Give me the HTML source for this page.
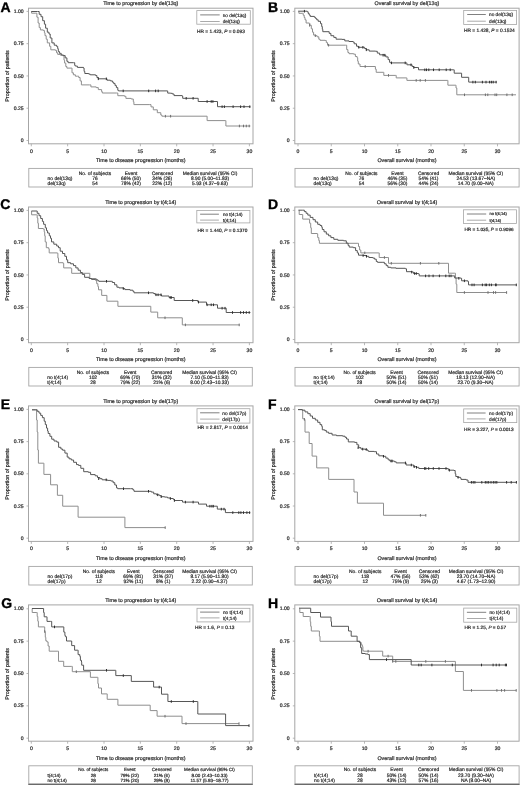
<!DOCTYPE html>
<html><head><meta charset="utf-8"><style>
html,body{margin:0;padding:0;background:#fff;}
svg{display:block;filter:grayscale(1) blur(0.4px);}
text{font-family:"Liberation Sans", sans-serif;text-rendering:geometricPrecision;fill:#2a2a2a;stroke:#2a2a2a;stroke-width:0.2px;}
</style></head><body>
<svg width="520" height="785" viewBox="0 0 520 785">
<rect width="520" height="785" fill="#fff"/>
<text x="0.6" y="11.5" font-size="14" font-weight="bold" style="fill:#000;stroke:#000;stroke-width:0.35px">A</text>
<text x="140.75" y="4.50" font-size="5.35" text-anchor="middle" >Time to progression by del(13q)</text>
<rect x="28.5" y="8.2" width="224.50" height="135.60" fill="none" stroke="#a6a6a6" stroke-width="1"/>
<line x1="26.5" y1="11.40" x2="28.5" y2="11.40" stroke="#a6a6a6" stroke-width="0.8"/>
<text x="23.70" y="13.00" font-size="5.1" text-anchor="end" >1.00</text>
<line x1="26.5" y1="43.67" x2="28.5" y2="43.67" stroke="#a6a6a6" stroke-width="0.8"/>
<text x="23.70" y="45.27" font-size="5.1" text-anchor="end" >0.75</text>
<line x1="26.5" y1="75.95" x2="28.5" y2="75.95" stroke="#a6a6a6" stroke-width="0.8"/>
<text x="23.70" y="77.55" font-size="5.1" text-anchor="end" >0.50</text>
<line x1="26.5" y1="108.22" x2="28.5" y2="108.22" stroke="#a6a6a6" stroke-width="0.8"/>
<text x="23.70" y="109.82" font-size="5.1" text-anchor="end" >0.25</text>
<line x1="26.5" y1="140.50" x2="28.5" y2="140.50" stroke="#a6a6a6" stroke-width="0.8"/>
<text x="23.70" y="142.10" font-size="5.1" text-anchor="end" >0</text>
<line x1="31.30" y1="143.8" x2="31.30" y2="146.3" stroke="#a6a6a6" stroke-width="0.8"/>
<text x="31.30" y="152.80" font-size="5.1" text-anchor="middle" >0</text>
<line x1="67.65" y1="143.8" x2="67.65" y2="146.3" stroke="#a6a6a6" stroke-width="0.8"/>
<text x="67.65" y="152.80" font-size="5.1" text-anchor="middle" >5</text>
<line x1="104.00" y1="143.8" x2="104.00" y2="146.3" stroke="#a6a6a6" stroke-width="0.8"/>
<text x="104.00" y="152.80" font-size="5.1" text-anchor="middle" >10</text>
<line x1="140.35" y1="143.8" x2="140.35" y2="146.3" stroke="#a6a6a6" stroke-width="0.8"/>
<text x="140.35" y="152.80" font-size="5.1" text-anchor="middle" >15</text>
<line x1="176.70" y1="143.8" x2="176.70" y2="146.3" stroke="#a6a6a6" stroke-width="0.8"/>
<text x="176.70" y="152.80" font-size="5.1" text-anchor="middle" >20</text>
<line x1="213.05" y1="143.8" x2="213.05" y2="146.3" stroke="#a6a6a6" stroke-width="0.8"/>
<text x="213.05" y="152.80" font-size="5.1" text-anchor="middle" >25</text>
<line x1="249.40" y1="143.8" x2="249.40" y2="146.3" stroke="#a6a6a6" stroke-width="0.8"/>
<text x="249.40" y="152.80" font-size="5.1" text-anchor="middle" >30</text>
<text x="140.75" y="162.00" font-size="5.35" text-anchor="middle" >Time to disease progression (months)</text>
<text x="0" y="0" font-size="5.43" text-anchor="middle" transform="translate(8.80,76.00) rotate(-90)">Proportion of patients</text>
<rect x="196.8" y="10.6" width="53.50" height="13.60" fill="none" stroke="#a6a6a6" stroke-width="0.8"/>
<line x1="200.2" y1="14.90" x2="219.7" y2="14.90" stroke="#565656" stroke-width="0.75"/>
<text x="222.70" y="16.58" font-size="4.67" text-anchor="start" >no del(13q)</text>
<line x1="200.2" y1="21.50" x2="219.7" y2="21.50" stroke="#8e8e8e" stroke-width="0.75"/>
<text x="222.70" y="23.18" font-size="4.67" text-anchor="start" >del(13q)</text>
<text x="197.10" y="33.33" font-size="4.8" text-anchor="start" >HR = 1.423, <tspan font-style="italic">P</tspan> = 0.093</text>
<rect x="28.8" y="168.40" width="223.50" height="18.60" fill="none" stroke="#a6a6a6" stroke-width="0.9"/>
<text x="95.00" y="174.50" font-size="4.9" text-anchor="middle" >No. of subjects</text>
<text x="131.00" y="174.50" font-size="4.9" text-anchor="middle" >Event</text>
<text x="162.30" y="174.50" font-size="4.9" text-anchor="middle" >Censored</text>
<text x="210.00" y="174.50" font-size="4.9" text-anchor="middle" >Median survival (95% CI)</text>
<text x="47.60" y="179.70" font-size="4.9" text-anchor="start" >no del(13q)</text>
<text x="95.00" y="179.70" font-size="4.9" text-anchor="middle" >76</text>
<text x="131.00" y="179.70" font-size="4.9" text-anchor="middle" >66% (50)</text>
<text x="162.30" y="179.70" font-size="4.9" text-anchor="middle" >34% (26)</text>
<text x="210.00" y="179.70" font-size="4.9" text-anchor="middle" >8.90 (5.00–11.83)</text>
<text x="47.60" y="184.80" font-size="4.9" text-anchor="start" >del(13q)</text>
<text x="95.00" y="184.80" font-size="4.9" text-anchor="middle" >54</text>
<text x="131.00" y="184.80" font-size="4.9" text-anchor="middle" >78% (42)</text>
<text x="162.30" y="184.80" font-size="4.9" text-anchor="middle" >22% (12)</text>
<text x="210.00" y="184.80" font-size="4.9" text-anchor="middle" >5.93 (4.37–9.63)</text>
<path d="M31.30,11.50 H31.60 V13.20 H35.80 V13.20 H36.90 V17.20 H38.10 V23.00 H39.20 V27.60 H40.40 V29.90 H43.30 V30.50 H44.40 V32.80 H45.00 V35.70 H46.20 V39.20 H47.30 V42.90 H49.60 V46.30 H50.80 V49.80 H55.40 V50.40 H56.50 V52.70 H57.70 V54.40 H60.00 V55.00 H62.30 V55.60 H64.00 V60.20 H64.60 V63.10 H65.80 V66.50 H66.90 V68.10 H71.30 V68.10 H72.00 V72.80 H73.40 V74.80 H75.40 V76.20 H77.40 V76.20 H78.70 V77.50 H80.10 V80.90 H81.40 V84.90 H89.50 V84.90 H90.90 V86.90 H96.20 V87.60 H98.30 V89.60 H101.60 V91.60 H102.30 V93.00 H116.40 V93.00 H117.80 V95.70 H124.50 V96.30 H125.90 V98.40 H131.20 V99.00 H133.30 V101.70 H133.90 V104.60 H149.80 V104.60 H151.00 V106.90 H153.30 V109.80 H157.30 V112.70 H160.80 V115.00 H161.90 V116.20 H207.10 V116.20 H207.10 V120.60 H225.60 V120.60 H225.90 V126.00 H250.40 V126.00" fill="none" stroke="#8e8e8e" stroke-width="1.0"/>
<line x1="165.40" y1="114.90" x2="165.40" y2="117.50" stroke="#6e6e6e" stroke-width="1.0"/>
<line x1="170.60" y1="114.90" x2="170.60" y2="117.50" stroke="#6e6e6e" stroke-width="1.0"/>
<line x1="239.40" y1="124.70" x2="239.40" y2="127.30" stroke="#6e6e6e" stroke-width="1.0"/>
<line x1="243.50" y1="124.70" x2="243.50" y2="127.30" stroke="#6e6e6e" stroke-width="1.0"/>
<line x1="246.30" y1="124.70" x2="246.30" y2="127.30" stroke="#6e6e6e" stroke-width="1.0"/>
<line x1="249.20" y1="124.70" x2="249.20" y2="127.30" stroke="#6e6e6e" stroke-width="1.0"/>
<path d="M31.30,11.50 H37.50 V11.50 H39.20 V14.30 H41.00 V16.70 H42.70 V20.70 H44.40 V24.20 H45.60 V28.20 H47.30 V32.20 H49.00 V34.00 H50.20 V38.00 H51.90 V42.90 H54.20 V45.20 H56.50 V46.30 H57.70 V48.70 H58.30 V51.50 H59.40 V53.30 H61.20 V55.00 H63.50 V55.60 H65.20 V57.90 H66.90 V61.30 H68.10 V62.70 H73.40 V62.70 H74.70 V65.40 H75.40 V66.10 H77.40 V67.40 H83.50 V68.10 H84.10 V71.40 H84.80 V73.50 H88.80 V74.10 H90.20 V74.80 H95.60 V75.50 H96.90 V77.50 H98.30 V78.80 H105.70 V78.80 H107.00 V80.20 H110.40 V80.90 H112.40 V82.20 H113.70 V83.60 H115.10 V85.60 H116.40 V87.60 H117.80 V90.30 H118.50 V90.90 H167.40 V90.90 H167.70 V93.10 H170.60 V93.30 H172.30 V94.00 H174.00 V95.60 H182.10 V96.00 H182.70 V98.30 H198.00 V98.30 H198.20 V101.50 H217.20 V101.50 H217.50 V106.70 H250.40 V106.70" fill="none" stroke="#565656" stroke-width="1.0"/>
<line x1="98.30" y1="77.50" x2="98.30" y2="80.10" stroke="#2e2e2e" stroke-width="1.0"/>
<line x1="106.30" y1="77.50" x2="106.30" y2="80.10" stroke="#2e2e2e" stroke-width="1.0"/>
<line x1="123.20" y1="89.60" x2="123.20" y2="92.20" stroke="#2e2e2e" stroke-width="1.0"/>
<line x1="148.70" y1="89.60" x2="148.70" y2="92.20" stroke="#2e2e2e" stroke-width="1.0"/>
<line x1="155.60" y1="89.60" x2="155.60" y2="92.20" stroke="#2e2e2e" stroke-width="1.0"/>
<line x1="158.20" y1="89.60" x2="158.20" y2="92.20" stroke="#2e2e2e" stroke-width="1.0"/>
<line x1="186.20" y1="97.00" x2="186.20" y2="99.60" stroke="#2e2e2e" stroke-width="1.0"/>
<line x1="193.10" y1="97.00" x2="193.10" y2="99.60" stroke="#2e2e2e" stroke-width="1.0"/>
<line x1="207.10" y1="100.20" x2="207.10" y2="102.80" stroke="#2e2e2e" stroke-width="1.0"/>
<line x1="211.20" y1="100.20" x2="211.20" y2="102.80" stroke="#2e2e2e" stroke-width="1.0"/>
<line x1="212.90" y1="100.20" x2="212.90" y2="102.80" stroke="#2e2e2e" stroke-width="1.0"/>
<line x1="222.10" y1="105.40" x2="222.10" y2="108.00" stroke="#2e2e2e" stroke-width="1.0"/>
<line x1="224.40" y1="105.40" x2="224.40" y2="108.00" stroke="#2e2e2e" stroke-width="1.0"/>
<line x1="233.10" y1="105.40" x2="233.10" y2="108.00" stroke="#2e2e2e" stroke-width="1.0"/>
<line x1="240.60" y1="105.40" x2="240.60" y2="108.00" stroke="#2e2e2e" stroke-width="1.0"/>
<line x1="244.00" y1="105.40" x2="244.00" y2="108.00" stroke="#2e2e2e" stroke-width="1.0"/>
<line x1="249.80" y1="105.40" x2="249.80" y2="108.00" stroke="#2e2e2e" stroke-width="1.0"/>
<text x="267.9" y="11.8" font-size="14" font-weight="bold" style="fill:#000;stroke:#000;stroke-width:0.35px">B</text>
<text x="406.95" y="4.50" font-size="5.35" text-anchor="middle" >Overall survival by del(13q)</text>
<rect x="294.8" y="8.2" width="224.30" height="135.60" fill="none" stroke="#a6a6a6" stroke-width="1"/>
<line x1="292.8" y1="11.40" x2="294.8" y2="11.40" stroke="#a6a6a6" stroke-width="0.8"/>
<text x="289.70" y="13.00" font-size="5.1" text-anchor="end" >1.00</text>
<line x1="292.8" y1="43.67" x2="294.8" y2="43.67" stroke="#a6a6a6" stroke-width="0.8"/>
<text x="289.70" y="45.27" font-size="5.1" text-anchor="end" >0.75</text>
<line x1="292.8" y1="75.95" x2="294.8" y2="75.95" stroke="#a6a6a6" stroke-width="0.8"/>
<text x="289.70" y="77.55" font-size="5.1" text-anchor="end" >0.50</text>
<line x1="292.8" y1="108.22" x2="294.8" y2="108.22" stroke="#a6a6a6" stroke-width="0.8"/>
<text x="289.70" y="109.82" font-size="5.1" text-anchor="end" >0.25</text>
<line x1="292.8" y1="140.50" x2="294.8" y2="140.50" stroke="#a6a6a6" stroke-width="0.8"/>
<text x="289.70" y="142.10" font-size="5.1" text-anchor="end" >0</text>
<line x1="298.00" y1="143.8" x2="298.00" y2="146.3" stroke="#a6a6a6" stroke-width="0.8"/>
<text x="298.00" y="152.80" font-size="5.1" text-anchor="middle" >0</text>
<line x1="331.25" y1="143.8" x2="331.25" y2="146.3" stroke="#a6a6a6" stroke-width="0.8"/>
<text x="331.25" y="152.80" font-size="5.1" text-anchor="middle" >5</text>
<line x1="364.50" y1="143.8" x2="364.50" y2="146.3" stroke="#a6a6a6" stroke-width="0.8"/>
<text x="364.50" y="152.80" font-size="5.1" text-anchor="middle" >10</text>
<line x1="397.75" y1="143.8" x2="397.75" y2="146.3" stroke="#a6a6a6" stroke-width="0.8"/>
<text x="397.75" y="152.80" font-size="5.1" text-anchor="middle" >15</text>
<line x1="431.00" y1="143.8" x2="431.00" y2="146.3" stroke="#a6a6a6" stroke-width="0.8"/>
<text x="431.00" y="152.80" font-size="5.1" text-anchor="middle" >20</text>
<line x1="464.25" y1="143.8" x2="464.25" y2="146.3" stroke="#a6a6a6" stroke-width="0.8"/>
<text x="464.25" y="152.80" font-size="5.1" text-anchor="middle" >25</text>
<line x1="497.50" y1="143.8" x2="497.50" y2="146.3" stroke="#a6a6a6" stroke-width="0.8"/>
<text x="497.50" y="152.80" font-size="5.1" text-anchor="middle" >30</text>
<text x="406.95" y="162.00" font-size="5.35" text-anchor="middle" >Overall survival (months)</text>
<text x="0" y="0" font-size="5.43" text-anchor="middle" transform="translate(275.10,76.00) rotate(-90)">Proportion of patients</text>
<rect x="463.7" y="10.5" width="52.90" height="13.90" fill="none" stroke="#a6a6a6" stroke-width="0.8"/>
<line x1="467.2" y1="14.50" x2="485.8" y2="14.50" stroke="#565656" stroke-width="0.75"/>
<text x="489.00" y="16.21" font-size="4.76" text-anchor="start" >no del(13q)</text>
<line x1="467.2" y1="21.20" x2="485.8" y2="21.20" stroke="#8e8e8e" stroke-width="0.75"/>
<text x="489.00" y="22.91" font-size="4.76" text-anchor="start" >del(13q)</text>
<text x="464.00" y="32.44" font-size="4.84" text-anchor="start" >HR = 1.428, <tspan font-style="italic">P</tspan> = 0.1524</text>
<rect x="295.0" y="168.40" width="224.10" height="18.60" fill="none" stroke="#a6a6a6" stroke-width="0.9"/>
<text x="361.40" y="174.50" font-size="4.9" text-anchor="middle" >No. of subjects</text>
<text x="397.40" y="174.50" font-size="4.9" text-anchor="middle" >Event</text>
<text x="428.50" y="174.50" font-size="4.9" text-anchor="middle" >Censored</text>
<text x="475.80" y="174.50" font-size="4.9" text-anchor="middle" >Median survival (95% CI)</text>
<text x="313.60" y="179.70" font-size="4.9" text-anchor="start" >no del(13q)</text>
<text x="361.40" y="179.70" font-size="4.9" text-anchor="middle" >76</text>
<text x="397.40" y="179.70" font-size="4.9" text-anchor="middle" >46% (35)</text>
<text x="428.50" y="179.70" font-size="4.9" text-anchor="middle" >54% (41)</text>
<text x="475.80" y="179.70" font-size="4.9" text-anchor="middle" >24.53 (13.67–NA)</text>
<text x="313.60" y="184.80" font-size="4.9" text-anchor="start" >del(13q)</text>
<text x="361.40" y="184.80" font-size="4.9" text-anchor="middle" >54</text>
<text x="397.40" y="184.80" font-size="4.9" text-anchor="middle" >56% (30)</text>
<text x="428.50" y="184.80" font-size="4.9" text-anchor="middle" >44% (24)</text>
<text x="475.80" y="184.80" font-size="4.9" text-anchor="middle" >14.70 (9.00–NA)</text>
<path d="M298.40,11.20 H298.90 V13.30 H302.70 V13.30 H303.20 V15.20 H304.20 V17.50 H305.00 V19.80 H306.10 V23.00 H309.00 V23.30 H309.90 V25.30 H311.30 V28.80 H312.50 V32.20 H313.60 V35.10 H315.30 V35.70 H317.10 V36.80 H318.80 V39.20 H320.00 V40.30 H325.20 V40.50 H326.30 V42.60 H327.50 V45.20 H345.30 V45.20 H346.70 V49.60 H347.90 V52.50 H349.00 V53.70 H353.70 V54.20 H355.40 V56.50 H357.10 V57.70 H357.70 V61.20 H358.30 V64.00 H360.00 V66.50 H375.00 V66.50 H375.40 V69.20 H376.20 V72.30 H383.50 V72.30 H383.80 V75.40 H395.80 V75.40 H396.20 V77.90 H406.30 V77.90 H406.90 V80.40 H447.30 V80.40 H447.90 V85.20 H455.40 V85.20 H456.00 V88.00 H456.80 V94.80 H516.00 V94.80" fill="none" stroke="#8e8e8e" stroke-width="1.0"/>
<line x1="309.60" y1="24.00" x2="309.60" y2="26.60" stroke="#6e6e6e" stroke-width="1.0"/>
<line x1="315.30" y1="34.40" x2="315.30" y2="37.00" stroke="#6e6e6e" stroke-width="1.0"/>
<line x1="328.60" y1="43.90" x2="328.60" y2="46.50" stroke="#6e6e6e" stroke-width="1.0"/>
<line x1="365.20" y1="65.20" x2="365.20" y2="67.80" stroke="#6e6e6e" stroke-width="1.0"/>
<line x1="388.50" y1="74.10" x2="388.50" y2="76.70" stroke="#6e6e6e" stroke-width="1.0"/>
<line x1="416.20" y1="79.10" x2="416.20" y2="81.70" stroke="#6e6e6e" stroke-width="1.0"/>
<line x1="420.20" y1="79.10" x2="420.20" y2="81.70" stroke="#6e6e6e" stroke-width="1.0"/>
<line x1="425.40" y1="79.10" x2="425.40" y2="81.70" stroke="#6e6e6e" stroke-width="1.0"/>
<line x1="464.50" y1="93.50" x2="464.50" y2="96.10" stroke="#6e6e6e" stroke-width="1.0"/>
<line x1="485.40" y1="93.50" x2="485.40" y2="96.10" stroke="#6e6e6e" stroke-width="1.0"/>
<line x1="487.80" y1="93.50" x2="487.80" y2="96.10" stroke="#6e6e6e" stroke-width="1.0"/>
<line x1="495.00" y1="93.50" x2="495.00" y2="96.10" stroke="#6e6e6e" stroke-width="1.0"/>
<line x1="496.70" y1="93.50" x2="496.70" y2="96.10" stroke="#6e6e6e" stroke-width="1.0"/>
<line x1="506.90" y1="93.50" x2="506.90" y2="96.10" stroke="#6e6e6e" stroke-width="1.0"/>
<line x1="512.20" y1="93.50" x2="512.20" y2="96.10" stroke="#6e6e6e" stroke-width="1.0"/>
<path d="M298.40,11.20 H307.30 V11.80 H308.20 V13.50 H309.20 V15.00 H310.20 V16.40 H314.40 V17.30 H315.50 V18.40 H316.70 V19.80 H318.20 V21.30 H320.50 V23.60 H321.70 V26.50 H322.30 V29.30 H322.80 V31.70 H328.00 V31.70 H329.20 V33.40 H330.90 V35.70 H333.80 V37.40 H336.10 V39.20 H341.90 V39.40 H344.80 V40.90 H349.00 V41.50 H353.10 V42.10 H354.20 V43.80 H356.50 V46.20 H358.30 V47.30 H364.60 V48.50 H366.30 V49.80 H369.20 V51.10 H375.60 V51.30 H377.30 V53.10 H379.60 V54.80 H384.20 V55.20 H385.80 V56.90 H388.10 V59.60 H389.60 V62.30 H390.40 V62.90 H406.30 V62.90 H406.90 V64.80 H411.00 V64.80 H412.10 V66.50 H413.80 V67.50 H417.90 V67.50 H418.50 V69.80 H453.70 V69.80 H454.20 V73.20 H461.00 V73.20 H461.60 V77.30 H468.10 V77.30 H468.70 V82.10 H496.70 V82.10" fill="none" stroke="#565656" stroke-width="1.0"/>
<line x1="304.40" y1="9.90" x2="304.40" y2="12.50" stroke="#2e2e2e" stroke-width="1.0"/>
<line x1="358.80" y1="46.00" x2="358.80" y2="48.60" stroke="#2e2e2e" stroke-width="1.0"/>
<line x1="362.90" y1="46.00" x2="362.90" y2="48.60" stroke="#2e2e2e" stroke-width="1.0"/>
<line x1="366.30" y1="48.50" x2="366.30" y2="51.10" stroke="#2e2e2e" stroke-width="1.0"/>
<line x1="383.10" y1="53.90" x2="383.10" y2="56.50" stroke="#2e2e2e" stroke-width="1.0"/>
<line x1="384.80" y1="53.90" x2="384.80" y2="56.50" stroke="#2e2e2e" stroke-width="1.0"/>
<line x1="391.50" y1="61.60" x2="391.50" y2="64.20" stroke="#2e2e2e" stroke-width="1.0"/>
<line x1="405.20" y1="61.60" x2="405.20" y2="64.20" stroke="#2e2e2e" stroke-width="1.0"/>
<line x1="411.00" y1="63.50" x2="411.00" y2="66.10" stroke="#2e2e2e" stroke-width="1.0"/>
<line x1="413.80" y1="66.20" x2="413.80" y2="68.80" stroke="#2e2e2e" stroke-width="1.0"/>
<line x1="424.80" y1="68.50" x2="424.80" y2="71.10" stroke="#2e2e2e" stroke-width="1.0"/>
<line x1="426.50" y1="68.50" x2="426.50" y2="71.10" stroke="#2e2e2e" stroke-width="1.0"/>
<line x1="428.80" y1="68.50" x2="428.80" y2="71.10" stroke="#2e2e2e" stroke-width="1.0"/>
<line x1="433.50" y1="68.50" x2="433.50" y2="71.10" stroke="#2e2e2e" stroke-width="1.0"/>
<line x1="439.20" y1="68.50" x2="439.20" y2="71.10" stroke="#2e2e2e" stroke-width="1.0"/>
<line x1="446.20" y1="68.50" x2="446.20" y2="71.10" stroke="#2e2e2e" stroke-width="1.0"/>
<line x1="450.20" y1="68.50" x2="450.20" y2="71.10" stroke="#2e2e2e" stroke-width="1.0"/>
<line x1="472.90" y1="80.80" x2="472.90" y2="83.40" stroke="#2e2e2e" stroke-width="1.0"/>
<line x1="475.30" y1="80.80" x2="475.30" y2="83.40" stroke="#2e2e2e" stroke-width="1.0"/>
<line x1="482.40" y1="80.80" x2="482.40" y2="83.40" stroke="#2e2e2e" stroke-width="1.0"/>
<line x1="486.00" y1="80.80" x2="486.00" y2="83.40" stroke="#2e2e2e" stroke-width="1.0"/>
<line x1="489.60" y1="80.80" x2="489.60" y2="83.40" stroke="#2e2e2e" stroke-width="1.0"/>
<line x1="491.40" y1="80.80" x2="491.40" y2="83.40" stroke="#2e2e2e" stroke-width="1.0"/>
<line x1="493.20" y1="80.80" x2="493.20" y2="83.40" stroke="#2e2e2e" stroke-width="1.0"/>
<line x1="496.10" y1="80.80" x2="496.10" y2="83.40" stroke="#2e2e2e" stroke-width="1.0"/>
<text x="0.2" y="208.6" font-size="14" font-weight="bold" style="fill:#000;stroke:#000;stroke-width:0.35px">C</text>
<text x="140.75" y="203.70" font-size="5.35" text-anchor="middle" >Time to progression by t(4;14)</text>
<rect x="28.5" y="207.0" width="224.50" height="135.70" fill="none" stroke="#a6a6a6" stroke-width="1"/>
<line x1="26.5" y1="210.40" x2="28.5" y2="210.40" stroke="#a6a6a6" stroke-width="0.8"/>
<text x="23.70" y="212.00" font-size="5.1" text-anchor="end" >1.00</text>
<line x1="26.5" y1="242.68" x2="28.5" y2="242.68" stroke="#a6a6a6" stroke-width="0.8"/>
<text x="23.70" y="244.28" font-size="5.1" text-anchor="end" >0.75</text>
<line x1="26.5" y1="274.95" x2="28.5" y2="274.95" stroke="#a6a6a6" stroke-width="0.8"/>
<text x="23.70" y="276.55" font-size="5.1" text-anchor="end" >0.50</text>
<line x1="26.5" y1="307.23" x2="28.5" y2="307.23" stroke="#a6a6a6" stroke-width="0.8"/>
<text x="23.70" y="308.83" font-size="5.1" text-anchor="end" >0.25</text>
<line x1="26.5" y1="339.50" x2="28.5" y2="339.50" stroke="#a6a6a6" stroke-width="0.8"/>
<text x="23.70" y="341.10" font-size="5.1" text-anchor="end" >0</text>
<line x1="31.30" y1="342.7" x2="31.30" y2="345.2" stroke="#a6a6a6" stroke-width="0.8"/>
<text x="31.30" y="351.70" font-size="5.1" text-anchor="middle" >0</text>
<line x1="67.65" y1="342.7" x2="67.65" y2="345.2" stroke="#a6a6a6" stroke-width="0.8"/>
<text x="67.65" y="351.70" font-size="5.1" text-anchor="middle" >5</text>
<line x1="104.00" y1="342.7" x2="104.00" y2="345.2" stroke="#a6a6a6" stroke-width="0.8"/>
<text x="104.00" y="351.70" font-size="5.1" text-anchor="middle" >10</text>
<line x1="140.35" y1="342.7" x2="140.35" y2="345.2" stroke="#a6a6a6" stroke-width="0.8"/>
<text x="140.35" y="351.70" font-size="5.1" text-anchor="middle" >15</text>
<line x1="176.70" y1="342.7" x2="176.70" y2="345.2" stroke="#a6a6a6" stroke-width="0.8"/>
<text x="176.70" y="351.70" font-size="5.1" text-anchor="middle" >20</text>
<line x1="213.05" y1="342.7" x2="213.05" y2="345.2" stroke="#a6a6a6" stroke-width="0.8"/>
<text x="213.05" y="351.70" font-size="5.1" text-anchor="middle" >25</text>
<line x1="249.40" y1="342.7" x2="249.40" y2="345.2" stroke="#a6a6a6" stroke-width="0.8"/>
<text x="249.40" y="351.70" font-size="5.1" text-anchor="middle" >30</text>
<text x="140.75" y="361.00" font-size="5.35" text-anchor="middle" >Time to disease progression (months)</text>
<text x="0" y="0" font-size="5.43" text-anchor="middle" transform="translate(8.80,275.00) rotate(-90)">Proportion of patients</text>
<rect x="196.8" y="210.4" width="53.10" height="12.50" fill="none" stroke="#a6a6a6" stroke-width="0.8"/>
<line x1="200.1" y1="214.20" x2="218.9" y2="214.20" stroke="#565656" stroke-width="0.75"/>
<text x="223.00" y="215.84" font-size="4.55" text-anchor="start" >no t(4;14)</text>
<line x1="200.1" y1="220.10" x2="218.9" y2="220.10" stroke="#8e8e8e" stroke-width="0.75"/>
<text x="223.00" y="221.74" font-size="4.55" text-anchor="start" >t(4;14)</text>
<text x="197.40" y="232.01" font-size="4.75" text-anchor="start" >HR = 1.440, <tspan font-style="italic">P</tspan> = 0.1370</text>
<rect x="28.8" y="367.40" width="223.50" height="18.60" fill="none" stroke="#a6a6a6" stroke-width="0.9"/>
<text x="93.00" y="373.50" font-size="4.9" text-anchor="middle" >No. of subjects</text>
<text x="130.20" y="373.50" font-size="4.9" text-anchor="middle" >Event</text>
<text x="161.70" y="373.50" font-size="4.9" text-anchor="middle" >Censored</text>
<text x="209.50" y="373.50" font-size="4.9" text-anchor="middle" >Median survival (95% CI)</text>
<text x="47.20" y="378.70" font-size="4.9" text-anchor="start" >no t(4;14)</text>
<text x="93.00" y="378.70" font-size="4.9" text-anchor="middle" >102</text>
<text x="130.20" y="378.70" font-size="4.9" text-anchor="middle" >69% (70)</text>
<text x="161.70" y="378.70" font-size="4.9" text-anchor="middle" >31% (32)</text>
<text x="209.50" y="378.70" font-size="4.9" text-anchor="middle" >7.10 (5.00–11.83)</text>
<text x="47.20" y="383.80" font-size="4.9" text-anchor="start" >t(4;14)</text>
<text x="93.00" y="383.80" font-size="4.9" text-anchor="middle" >28</text>
<text x="130.20" y="383.80" font-size="4.9" text-anchor="middle" >79% (22)</text>
<text x="161.70" y="383.80" font-size="4.9" text-anchor="middle" >21% (6)</text>
<text x="209.50" y="383.80" font-size="4.9" text-anchor="middle" >8.00 (2.43–10.33)</text>
<path d="M31.50,211.00 H31.60 V214.80 H36.30 V214.80 H37.20 V218.00 H37.80 V223.20 H38.40 V228.50 H43.00 V228.90 H44.20 V231.80 H44.70 V235.80 H45.20 V241.90 H46.30 V247.70 H48.70 V248.80 H49.20 V252.90 H57.30 V253.20 H57.90 V258.10 H58.50 V262.70 H63.10 V263.30 H63.70 V267.90 H71.20 V268.50 H71.70 V273.30 H89.20 V273.30 H89.80 V278.50 H96.20 V280.80 H96.70 V283.70 H97.90 V286.50 H98.50 V289.80 H101.70 V295.40 H106.90 V301.20 H117.90 V306.30 H150.80 V312.10 H157.70 V317.80 H182.30 V324.90 H239.40 V324.90" fill="none" stroke="#8e8e8e" stroke-width="1.0"/>
<line x1="165.00" y1="316.50" x2="165.00" y2="319.10" stroke="#6e6e6e" stroke-width="1.0"/>
<line x1="185.40" y1="323.60" x2="185.40" y2="326.20" stroke="#6e6e6e" stroke-width="1.0"/>
<line x1="239.20" y1="323.60" x2="239.20" y2="326.20" stroke="#6e6e6e" stroke-width="1.0"/>
<path d="M31.50,211.00 H36.10 V211.00 H37.20 V213.30 H39.00 V215.70 H40.70 V218.50 H42.40 V221.40 H43.60 V224.30 H45.30 V227.80 H46.50 V230.70 H47.60 V233.00 H49.30 V235.80 H50.50 V238.30 H51.50 V241.90 H53.80 V244.20 H56.70 V246.00 H58.50 V247.70 H60.20 V251.20 H62.50 V253.50 H64.80 V256.30 H66.50 V259.80 H67.70 V262.70 H70.60 V263.80 H73.50 V265.60 H75.80 V267.90 H78.10 V270.20 H80.40 V272.50 H82.30 V274.40 H84.60 V277.30 H89.20 V278.50 H91.50 V279.40 H95.00 V279.80 H97.90 V280.80 H99.00 V281.30 H111.20 V281.30 H112.30 V282.50 H114.60 V284.80 H116.90 V287.20 H119.00 V287.90 H123.10 V288.50 H124.80 V289.60 H130.00 V290.20 H132.90 V291.30 H134.00 V292.80 H153.30 V292.80 H153.50 V293.50 H155.20 V294.80 H161.50 V296.00 H169.00 V297.50 H174.20 V300.50 H197.90 V302.10 H206.50 V304.80 H217.50 V308.20 H226.20 V312.50 H250.40 V312.50" fill="none" stroke="#565656" stroke-width="1.0"/>
<line x1="106.50" y1="280.00" x2="106.50" y2="282.60" stroke="#2e2e2e" stroke-width="1.0"/>
<line x1="123.30" y1="287.20" x2="123.30" y2="289.80" stroke="#2e2e2e" stroke-width="1.0"/>
<line x1="148.50" y1="291.50" x2="148.50" y2="294.10" stroke="#2e2e2e" stroke-width="1.0"/>
<line x1="156.00" y1="293.50" x2="156.00" y2="296.10" stroke="#2e2e2e" stroke-width="1.0"/>
<line x1="158.10" y1="293.50" x2="158.10" y2="296.10" stroke="#2e2e2e" stroke-width="1.0"/>
<line x1="161.00" y1="293.50" x2="161.00" y2="296.10" stroke="#2e2e2e" stroke-width="1.0"/>
<line x1="170.20" y1="296.20" x2="170.20" y2="298.80" stroke="#2e2e2e" stroke-width="1.0"/>
<line x1="171.30" y1="296.20" x2="171.30" y2="298.80" stroke="#2e2e2e" stroke-width="1.0"/>
<line x1="192.70" y1="299.20" x2="192.70" y2="301.80" stroke="#2e2e2e" stroke-width="1.0"/>
<line x1="198.50" y1="300.80" x2="198.50" y2="303.40" stroke="#2e2e2e" stroke-width="1.0"/>
<line x1="207.10" y1="303.50" x2="207.10" y2="306.10" stroke="#2e2e2e" stroke-width="1.0"/>
<line x1="211.20" y1="303.50" x2="211.20" y2="306.10" stroke="#2e2e2e" stroke-width="1.0"/>
<line x1="213.50" y1="303.50" x2="213.50" y2="306.10" stroke="#2e2e2e" stroke-width="1.0"/>
<line x1="222.10" y1="306.90" x2="222.10" y2="309.50" stroke="#2e2e2e" stroke-width="1.0"/>
<line x1="225.00" y1="306.90" x2="225.00" y2="309.50" stroke="#2e2e2e" stroke-width="1.0"/>
<line x1="232.50" y1="311.20" x2="232.50" y2="313.80" stroke="#2e2e2e" stroke-width="1.0"/>
<line x1="240.60" y1="311.20" x2="240.60" y2="313.80" stroke="#2e2e2e" stroke-width="1.0"/>
<line x1="243.50" y1="311.20" x2="243.50" y2="313.80" stroke="#2e2e2e" stroke-width="1.0"/>
<line x1="246.30" y1="311.20" x2="246.30" y2="313.80" stroke="#2e2e2e" stroke-width="1.0"/>
<line x1="249.20" y1="311.20" x2="249.20" y2="313.80" stroke="#2e2e2e" stroke-width="1.0"/>
<text x="267.9" y="208.8" font-size="14" font-weight="bold" style="fill:#000;stroke:#000;stroke-width:0.35px">D</text>
<text x="406.95" y="203.70" font-size="5.35" text-anchor="middle" >Overall survival by t(4;14)</text>
<rect x="294.8" y="207.0" width="224.30" height="135.70" fill="none" stroke="#a6a6a6" stroke-width="1"/>
<line x1="292.8" y1="210.40" x2="294.8" y2="210.40" stroke="#a6a6a6" stroke-width="0.8"/>
<text x="289.70" y="212.00" font-size="5.1" text-anchor="end" >1.00</text>
<line x1="292.8" y1="242.68" x2="294.8" y2="242.68" stroke="#a6a6a6" stroke-width="0.8"/>
<text x="289.70" y="244.28" font-size="5.1" text-anchor="end" >0.75</text>
<line x1="292.8" y1="274.95" x2="294.8" y2="274.95" stroke="#a6a6a6" stroke-width="0.8"/>
<text x="289.70" y="276.55" font-size="5.1" text-anchor="end" >0.50</text>
<line x1="292.8" y1="307.23" x2="294.8" y2="307.23" stroke="#a6a6a6" stroke-width="0.8"/>
<text x="289.70" y="308.83" font-size="5.1" text-anchor="end" >0.25</text>
<line x1="292.8" y1="339.50" x2="294.8" y2="339.50" stroke="#a6a6a6" stroke-width="0.8"/>
<text x="289.70" y="341.10" font-size="5.1" text-anchor="end" >0</text>
<line x1="298.00" y1="342.7" x2="298.00" y2="345.2" stroke="#a6a6a6" stroke-width="0.8"/>
<text x="298.00" y="351.70" font-size="5.1" text-anchor="middle" >0</text>
<line x1="331.25" y1="342.7" x2="331.25" y2="345.2" stroke="#a6a6a6" stroke-width="0.8"/>
<text x="331.25" y="351.70" font-size="5.1" text-anchor="middle" >5</text>
<line x1="364.50" y1="342.7" x2="364.50" y2="345.2" stroke="#a6a6a6" stroke-width="0.8"/>
<text x="364.50" y="351.70" font-size="5.1" text-anchor="middle" >10</text>
<line x1="397.75" y1="342.7" x2="397.75" y2="345.2" stroke="#a6a6a6" stroke-width="0.8"/>
<text x="397.75" y="351.70" font-size="5.1" text-anchor="middle" >15</text>
<line x1="431.00" y1="342.7" x2="431.00" y2="345.2" stroke="#a6a6a6" stroke-width="0.8"/>
<text x="431.00" y="351.70" font-size="5.1" text-anchor="middle" >20</text>
<line x1="464.25" y1="342.7" x2="464.25" y2="345.2" stroke="#a6a6a6" stroke-width="0.8"/>
<text x="464.25" y="351.70" font-size="5.1" text-anchor="middle" >25</text>
<line x1="497.50" y1="342.7" x2="497.50" y2="345.2" stroke="#a6a6a6" stroke-width="0.8"/>
<text x="497.50" y="351.70" font-size="5.1" text-anchor="middle" >30</text>
<text x="406.95" y="361.00" font-size="5.35" text-anchor="middle" >Overall survival (months)</text>
<text x="0" y="0" font-size="5.43" text-anchor="middle" transform="translate(275.10,275.00) rotate(-90)">Proportion of patients</text>
<rect x="463.5" y="209.8" width="53.10" height="13.70" fill="none" stroke="#a6a6a6" stroke-width="0.8"/>
<line x1="466.9" y1="214.00" x2="486.2" y2="214.00" stroke="#565656" stroke-width="0.75"/>
<text x="489.40" y="215.48" font-size="4.1" text-anchor="start" >no t(4;14)</text>
<line x1="466.9" y1="220.20" x2="486.2" y2="220.20" stroke="#8e8e8e" stroke-width="0.75"/>
<text x="489.40" y="221.68" font-size="4.1" text-anchor="start" >t(4;14)</text>
<text x="464.40" y="231.09" font-size="4.7" text-anchor="start" >HR = 1.035, <tspan font-style="italic">P</tspan> = 0.9096</text>
<rect x="295.0" y="367.40" width="224.10" height="18.60" fill="none" stroke="#a6a6a6" stroke-width="0.9"/>
<text x="359.60" y="373.50" font-size="4.9" text-anchor="middle" >No. of subjects</text>
<text x="396.50" y="373.50" font-size="4.9" text-anchor="middle" >Event</text>
<text x="428.00" y="373.50" font-size="4.9" text-anchor="middle" >Censored</text>
<text x="475.50" y="373.50" font-size="4.9" text-anchor="middle" >Median survival (95% CI)</text>
<text x="313.60" y="378.70" font-size="4.9" text-anchor="start" >no t(4;14)</text>
<text x="359.60" y="378.70" font-size="4.9" text-anchor="middle" >102</text>
<text x="396.50" y="378.70" font-size="4.9" text-anchor="middle" >50% (51)</text>
<text x="428.00" y="378.70" font-size="4.9" text-anchor="middle" >50% (51)</text>
<text x="475.50" y="378.70" font-size="4.9" text-anchor="middle" >18.13 (12.90–NA)</text>
<text x="313.60" y="383.80" font-size="4.9" text-anchor="start" >t(4;14)</text>
<text x="359.60" y="383.80" font-size="4.9" text-anchor="middle" >28</text>
<text x="396.50" y="383.80" font-size="4.9" text-anchor="middle" >50% (14)</text>
<text x="428.00" y="383.80" font-size="4.9" text-anchor="middle" >50% (14)</text>
<text x="475.50" y="383.80" font-size="4.9" text-anchor="middle" >23.70 (9.30–NA)</text>
<path d="M298.60,210.20 H299.20 V214.50 H302.10 V214.50 H302.70 V219.10 H309.00 V219.10 H309.60 V223.20 H310.70 V227.80 H311.30 V233.50 H317.10 V233.80 H317.70 V237.60 H318.80 V240.50 H319.40 V243.30 H357.90 V243.30 H358.50 V246.50 H359.60 V250.00 H360.80 V252.90 H378.70 V252.90 H379.20 V257.50 H387.90 V257.50 H388.50 V263.30 H448.50 V263.30 H448.50 V273.20 H454.70 V273.20 H455.40 V278.00 H456.10 V284.20 H456.80 V292.50 H506.60 V292.50" fill="none" stroke="#8e8e8e" stroke-width="1.0"/>
<line x1="364.80" y1="251.60" x2="364.80" y2="254.20" stroke="#6e6e6e" stroke-width="1.0"/>
<line x1="384.40" y1="256.20" x2="384.40" y2="258.80" stroke="#6e6e6e" stroke-width="1.0"/>
<line x1="391.30" y1="262.00" x2="391.30" y2="264.60" stroke="#6e6e6e" stroke-width="1.0"/>
<line x1="420.40" y1="262.00" x2="420.40" y2="264.60" stroke="#6e6e6e" stroke-width="1.0"/>
<line x1="438.80" y1="262.00" x2="438.80" y2="264.60" stroke="#6e6e6e" stroke-width="1.0"/>
<line x1="464.40" y1="291.20" x2="464.40" y2="293.80" stroke="#6e6e6e" stroke-width="1.0"/>
<line x1="488.00" y1="291.20" x2="488.00" y2="293.80" stroke="#6e6e6e" stroke-width="1.0"/>
<line x1="493.50" y1="291.20" x2="493.50" y2="293.80" stroke="#6e6e6e" stroke-width="1.0"/>
<line x1="495.60" y1="291.20" x2="495.60" y2="293.80" stroke="#6e6e6e" stroke-width="1.0"/>
<line x1="506.60" y1="291.20" x2="506.60" y2="293.80" stroke="#6e6e6e" stroke-width="1.0"/>
<path d="M298.60,210.20 H302.70 V210.20 H304.40 V211.60 H306.10 V213.30 H307.80 V215.10 H310.20 V217.40 H313.00 V219.70 H315.30 V222.00 H317.70 V224.30 H320.00 V225.50 H321.70 V227.20 H322.30 V229.50 H324.00 V231.80 H326.30 V234.10 H328.60 V235.80 H330.90 V237.60 H333.80 V239.30 H337.80 V240.30 H343.50 V240.80 H346.30 V243.10 H348.10 V245.40 H349.20 V247.10 H353.30 V247.70 H355.60 V250.60 H357.30 V252.90 H358.50 V255.20 H362.50 V255.50 H366.00 V256.30 H368.80 V257.50 H372.90 V258.10 H374.60 V259.20 H376.30 V261.50 H377.50 V262.30 H382.10 V262.30 H384.40 V263.80 H386.20 V265.60 H387.90 V267.30 H390.80 V267.90 H396.00 V268.30 H405.40 V268.80 H406.50 V271.70 H412.30 V272.10 H413.50 V273.50 H418.70 V274.00 H419.20 V275.90 H454.00 V275.90 H454.70 V278.00 H460.90 V278.30 H461.60 V280.80 H467.90 V281.50 H468.50 V284.90 H516.30 V284.90" fill="none" stroke="#565656" stroke-width="1.0"/>
<line x1="363.10" y1="254.20" x2="363.10" y2="256.80" stroke="#2e2e2e" stroke-width="1.0"/>
<line x1="366.50" y1="255.00" x2="366.50" y2="257.60" stroke="#2e2e2e" stroke-width="1.0"/>
<line x1="411.70" y1="270.80" x2="411.70" y2="273.40" stroke="#2e2e2e" stroke-width="1.0"/>
<line x1="414.60" y1="272.20" x2="414.60" y2="274.80" stroke="#2e2e2e" stroke-width="1.0"/>
<line x1="416.30" y1="272.20" x2="416.30" y2="274.80" stroke="#2e2e2e" stroke-width="1.0"/>
<line x1="425.60" y1="274.60" x2="425.60" y2="277.20" stroke="#2e2e2e" stroke-width="1.0"/>
<line x1="429.00" y1="274.60" x2="429.00" y2="277.20" stroke="#2e2e2e" stroke-width="1.0"/>
<line x1="433.10" y1="274.60" x2="433.10" y2="277.20" stroke="#2e2e2e" stroke-width="1.0"/>
<line x1="439.40" y1="274.60" x2="439.40" y2="277.20" stroke="#2e2e2e" stroke-width="1.0"/>
<line x1="445.80" y1="274.60" x2="445.80" y2="277.20" stroke="#2e2e2e" stroke-width="1.0"/>
<line x1="449.20" y1="274.60" x2="449.20" y2="277.20" stroke="#2e2e2e" stroke-width="1.0"/>
<line x1="451.00" y1="274.60" x2="451.00" y2="277.20" stroke="#2e2e2e" stroke-width="1.0"/>
<line x1="458.80" y1="277.00" x2="458.80" y2="279.60" stroke="#2e2e2e" stroke-width="1.0"/>
<line x1="464.40" y1="279.50" x2="464.40" y2="282.10" stroke="#2e2e2e" stroke-width="1.0"/>
<line x1="472.00" y1="283.60" x2="472.00" y2="286.20" stroke="#2e2e2e" stroke-width="1.0"/>
<line x1="474.10" y1="283.60" x2="474.10" y2="286.20" stroke="#2e2e2e" stroke-width="1.0"/>
<line x1="482.40" y1="283.60" x2="482.40" y2="286.20" stroke="#2e2e2e" stroke-width="1.0"/>
<line x1="485.20" y1="283.60" x2="485.20" y2="286.20" stroke="#2e2e2e" stroke-width="1.0"/>
<line x1="486.60" y1="283.60" x2="486.60" y2="286.20" stroke="#2e2e2e" stroke-width="1.0"/>
<line x1="489.30" y1="283.60" x2="489.30" y2="286.20" stroke="#2e2e2e" stroke-width="1.0"/>
<line x1="491.40" y1="283.60" x2="491.40" y2="286.20" stroke="#2e2e2e" stroke-width="1.0"/>
<line x1="495.60" y1="283.60" x2="495.60" y2="286.20" stroke="#2e2e2e" stroke-width="1.0"/>
<line x1="496.20" y1="283.60" x2="496.20" y2="286.20" stroke="#2e2e2e" stroke-width="1.0"/>
<line x1="516.30" y1="283.60" x2="516.30" y2="286.20" stroke="#2e2e2e" stroke-width="1.0"/>
<text x="0.8" y="408.6" font-size="14" font-weight="bold" style="fill:#000;stroke:#000;stroke-width:0.35px">E</text>
<text x="140.75" y="402.70" font-size="5.35" text-anchor="middle" >Time to progression by del(17p)</text>
<rect x="28.5" y="405.9" width="224.50" height="135.50" fill="none" stroke="#a6a6a6" stroke-width="1"/>
<line x1="26.5" y1="409.40" x2="28.5" y2="409.40" stroke="#a6a6a6" stroke-width="0.8"/>
<text x="23.70" y="411.00" font-size="5.1" text-anchor="end" >1.00</text>
<line x1="26.5" y1="441.60" x2="28.5" y2="441.60" stroke="#a6a6a6" stroke-width="0.8"/>
<text x="23.70" y="443.20" font-size="5.1" text-anchor="end" >0.75</text>
<line x1="26.5" y1="473.80" x2="28.5" y2="473.80" stroke="#a6a6a6" stroke-width="0.8"/>
<text x="23.70" y="475.40" font-size="5.1" text-anchor="end" >0.50</text>
<line x1="26.5" y1="506.00" x2="28.5" y2="506.00" stroke="#a6a6a6" stroke-width="0.8"/>
<text x="23.70" y="507.60" font-size="5.1" text-anchor="end" >0.25</text>
<line x1="26.5" y1="538.20" x2="28.5" y2="538.20" stroke="#a6a6a6" stroke-width="0.8"/>
<text x="23.70" y="539.80" font-size="5.1" text-anchor="end" >0</text>
<line x1="31.30" y1="541.4" x2="31.30" y2="543.9" stroke="#a6a6a6" stroke-width="0.8"/>
<text x="31.30" y="550.40" font-size="5.1" text-anchor="middle" >0</text>
<line x1="67.65" y1="541.4" x2="67.65" y2="543.9" stroke="#a6a6a6" stroke-width="0.8"/>
<text x="67.65" y="550.40" font-size="5.1" text-anchor="middle" >5</text>
<line x1="104.00" y1="541.4" x2="104.00" y2="543.9" stroke="#a6a6a6" stroke-width="0.8"/>
<text x="104.00" y="550.40" font-size="5.1" text-anchor="middle" >10</text>
<line x1="140.35" y1="541.4" x2="140.35" y2="543.9" stroke="#a6a6a6" stroke-width="0.8"/>
<text x="140.35" y="550.40" font-size="5.1" text-anchor="middle" >15</text>
<line x1="176.70" y1="541.4" x2="176.70" y2="543.9" stroke="#a6a6a6" stroke-width="0.8"/>
<text x="176.70" y="550.40" font-size="5.1" text-anchor="middle" >20</text>
<line x1="213.05" y1="541.4" x2="213.05" y2="543.9" stroke="#a6a6a6" stroke-width="0.8"/>
<text x="213.05" y="550.40" font-size="5.1" text-anchor="middle" >25</text>
<line x1="249.40" y1="541.4" x2="249.40" y2="543.9" stroke="#a6a6a6" stroke-width="0.8"/>
<text x="249.40" y="550.40" font-size="5.1" text-anchor="middle" >30</text>
<text x="140.75" y="560.00" font-size="5.35" text-anchor="middle" >Time to disease progression (months)</text>
<text x="0" y="0" font-size="5.43" text-anchor="middle" transform="translate(8.80,474.00) rotate(-90)">Proportion of patients</text>
<rect x="197.0" y="408.7" width="52.90" height="14.40" fill="none" stroke="#a6a6a6" stroke-width="0.8"/>
<line x1="200.1" y1="412.80" x2="219.5" y2="412.80" stroke="#565656" stroke-width="0.75"/>
<text x="222.30" y="414.52" font-size="4.78" text-anchor="start" >no del(17p)</text>
<line x1="200.1" y1="419.10" x2="219.5" y2="419.10" stroke="#8e8e8e" stroke-width="0.75"/>
<text x="222.30" y="420.82" font-size="4.78" text-anchor="start" >del(17p)</text>
<text x="197.40" y="429.03" font-size="4.81" text-anchor="start" >HR = 2.817, <tspan font-style="italic">P</tspan> = 0.0014</text>
<rect x="28.8" y="566.40" width="223.50" height="18.60" fill="none" stroke="#a6a6a6" stroke-width="0.9"/>
<text x="98.90" y="572.50" font-size="4.9" text-anchor="middle" >No. of subjects</text>
<text x="133.30" y="572.50" font-size="4.9" text-anchor="middle" >Event</text>
<text x="163.20" y="572.50" font-size="4.9" text-anchor="middle" >Censored</text>
<text x="209.50" y="572.50" font-size="4.9" text-anchor="middle" >Median survival (95% CI)</text>
<text x="47.60" y="577.70" font-size="4.9" text-anchor="start" >no del(17p)</text>
<text x="98.90" y="577.70" font-size="4.9" text-anchor="middle" >118</text>
<text x="133.30" y="577.70" font-size="4.9" text-anchor="middle" >69% (81)</text>
<text x="163.20" y="577.70" font-size="4.9" text-anchor="middle" >31% (37)</text>
<text x="209.50" y="577.70" font-size="4.9" text-anchor="middle" >8.17 (5.90–11.80)</text>
<text x="47.60" y="582.80" font-size="4.9" text-anchor="start" >del(17p)</text>
<text x="98.90" y="582.80" font-size="4.9" text-anchor="middle" >12</text>
<text x="133.30" y="582.80" font-size="4.9" text-anchor="middle" >92% (11)</text>
<text x="163.20" y="582.80" font-size="4.9" text-anchor="middle" >8% (1)</text>
<text x="209.50" y="582.80" font-size="4.9" text-anchor="middle" >2.22 (0.90–4.37)</text>
<path d="M32.00,409.80 H36.20 V409.80 H36.60 V420.00 H37.20 V432.00 H37.80 V450.00 H38.40 V463.20 H43.70 V463.20 H43.90 V474.40 H50.60 V474.40 H50.60 V484.80 H57.40 V484.80 H57.40 V495.30 H62.70 V495.30 H62.70 V506.20 H78.10 V506.20 H78.10 V517.20 H124.90 V517.20 H124.90 V527.60 H165.20 V527.60" fill="none" stroke="#8e8e8e" stroke-width="1.0"/>
<line x1="165.20" y1="526.30" x2="165.20" y2="528.90" stroke="#6e6e6e" stroke-width="1.0"/>
<path d="M32.00,409.80 H35.50 V409.80 H37.20 V411.30 H39.00 V413.10 H40.70 V415.40 H42.40 V417.70 H44.20 V421.20 H45.30 V424.60 H46.50 V428.10 H47.60 V431.00 H48.20 V433.50 H49.90 V436.30 H51.70 V439.20 H54.00 V441.00 H56.80 V442.10 H58.60 V447.30 H60.90 V449.00 H62.60 V450.20 H64.90 V453.10 H67.20 V457.10 H69.00 V458.80 H71.30 V460.00 H73.60 V462.30 H76.50 V464.60 H78.50 V465.40 H80.80 V468.30 H83.70 V471.70 H88.30 V472.30 H90.60 V474.60 H95.20 V475.80 H97.50 V477.50 H99.80 V478.70 H102.10 V479.80 H107.30 V480.40 H110.80 V481.00 H113.10 V482.70 H114.80 V485.00 H116.50 V487.90 H117.70 V488.70 H130.40 V488.70 H132.90 V489.80 H134.00 V491.30 H148.50 V491.30 H151.30 V492.10 H153.70 V493.80 H156.50 V494.80 H159.40 V495.60 H161.20 V496.70 H164.60 V497.10 H167.50 V497.90 H169.80 V498.50 H173.30 V499.40 H174.40 V500.50 H180.80 V500.50 H182.50 V502.10 H198.50 V502.10 H198.50 V504.10 H206.50 V504.10 H206.50 V506.20 H217.30 V506.20 H217.30 V509.10 H225.40 V509.10 H225.40 V512.60 H250.30 V512.60" fill="none" stroke="#565656" stroke-width="1.0"/>
<line x1="98.70" y1="477.40" x2="98.70" y2="480.00" stroke="#2e2e2e" stroke-width="1.0"/>
<line x1="106.20" y1="478.50" x2="106.20" y2="481.10" stroke="#2e2e2e" stroke-width="1.0"/>
<line x1="123.50" y1="487.40" x2="123.50" y2="490.00" stroke="#2e2e2e" stroke-width="1.0"/>
<line x1="148.50" y1="490.00" x2="148.50" y2="492.60" stroke="#2e2e2e" stroke-width="1.0"/>
<line x1="157.70" y1="493.50" x2="157.70" y2="496.10" stroke="#2e2e2e" stroke-width="1.0"/>
<line x1="161.20" y1="495.40" x2="161.20" y2="498.00" stroke="#2e2e2e" stroke-width="1.0"/>
<line x1="170.40" y1="497.20" x2="170.40" y2="499.80" stroke="#2e2e2e" stroke-width="1.0"/>
<line x1="174.40" y1="499.20" x2="174.40" y2="501.80" stroke="#2e2e2e" stroke-width="1.0"/>
<line x1="185.40" y1="500.80" x2="185.40" y2="503.40" stroke="#2e2e2e" stroke-width="1.0"/>
<line x1="193.10" y1="500.80" x2="193.10" y2="503.40" stroke="#2e2e2e" stroke-width="1.0"/>
<line x1="209.90" y1="504.90" x2="209.90" y2="507.50" stroke="#2e2e2e" stroke-width="1.0"/>
<line x1="211.90" y1="504.90" x2="211.90" y2="507.50" stroke="#2e2e2e" stroke-width="1.0"/>
<line x1="213.30" y1="504.90" x2="213.30" y2="507.50" stroke="#2e2e2e" stroke-width="1.0"/>
<line x1="221.30" y1="507.80" x2="221.30" y2="510.40" stroke="#2e2e2e" stroke-width="1.0"/>
<line x1="224.00" y1="507.80" x2="224.00" y2="510.40" stroke="#2e2e2e" stroke-width="1.0"/>
<line x1="232.80" y1="511.30" x2="232.80" y2="513.90" stroke="#2e2e2e" stroke-width="1.0"/>
<line x1="238.80" y1="511.30" x2="238.80" y2="513.90" stroke="#2e2e2e" stroke-width="1.0"/>
<line x1="240.90" y1="511.30" x2="240.90" y2="513.90" stroke="#2e2e2e" stroke-width="1.0"/>
<line x1="243.50" y1="511.30" x2="243.50" y2="513.90" stroke="#2e2e2e" stroke-width="1.0"/>
<line x1="246.90" y1="511.30" x2="246.90" y2="513.90" stroke="#2e2e2e" stroke-width="1.0"/>
<line x1="249.60" y1="511.30" x2="249.60" y2="513.90" stroke="#2e2e2e" stroke-width="1.0"/>
<text x="267.9" y="408.8" font-size="14" font-weight="bold" style="fill:#000;stroke:#000;stroke-width:0.35px">F</text>
<text x="406.95" y="402.70" font-size="5.35" text-anchor="middle" >Overall survival by del(17p)</text>
<rect x="294.8" y="405.9" width="224.30" height="135.50" fill="none" stroke="#a6a6a6" stroke-width="1"/>
<line x1="292.8" y1="409.40" x2="294.8" y2="409.40" stroke="#a6a6a6" stroke-width="0.8"/>
<text x="289.70" y="411.00" font-size="5.1" text-anchor="end" >1.00</text>
<line x1="292.8" y1="441.60" x2="294.8" y2="441.60" stroke="#a6a6a6" stroke-width="0.8"/>
<text x="289.70" y="443.20" font-size="5.1" text-anchor="end" >0.75</text>
<line x1="292.8" y1="473.80" x2="294.8" y2="473.80" stroke="#a6a6a6" stroke-width="0.8"/>
<text x="289.70" y="475.40" font-size="5.1" text-anchor="end" >0.50</text>
<line x1="292.8" y1="506.00" x2="294.8" y2="506.00" stroke="#a6a6a6" stroke-width="0.8"/>
<text x="289.70" y="507.60" font-size="5.1" text-anchor="end" >0.25</text>
<line x1="292.8" y1="538.20" x2="294.8" y2="538.20" stroke="#a6a6a6" stroke-width="0.8"/>
<text x="289.70" y="539.80" font-size="5.1" text-anchor="end" >0</text>
<line x1="298.00" y1="541.4" x2="298.00" y2="543.9" stroke="#a6a6a6" stroke-width="0.8"/>
<text x="298.00" y="550.40" font-size="5.1" text-anchor="middle" >0</text>
<line x1="331.25" y1="541.4" x2="331.25" y2="543.9" stroke="#a6a6a6" stroke-width="0.8"/>
<text x="331.25" y="550.40" font-size="5.1" text-anchor="middle" >5</text>
<line x1="364.50" y1="541.4" x2="364.50" y2="543.9" stroke="#a6a6a6" stroke-width="0.8"/>
<text x="364.50" y="550.40" font-size="5.1" text-anchor="middle" >10</text>
<line x1="397.75" y1="541.4" x2="397.75" y2="543.9" stroke="#a6a6a6" stroke-width="0.8"/>
<text x="397.75" y="550.40" font-size="5.1" text-anchor="middle" >15</text>
<line x1="431.00" y1="541.4" x2="431.00" y2="543.9" stroke="#a6a6a6" stroke-width="0.8"/>
<text x="431.00" y="550.40" font-size="5.1" text-anchor="middle" >20</text>
<line x1="464.25" y1="541.4" x2="464.25" y2="543.9" stroke="#a6a6a6" stroke-width="0.8"/>
<text x="464.25" y="550.40" font-size="5.1" text-anchor="middle" >25</text>
<line x1="497.50" y1="541.4" x2="497.50" y2="543.9" stroke="#a6a6a6" stroke-width="0.8"/>
<text x="497.50" y="550.40" font-size="5.1" text-anchor="middle" >30</text>
<text x="406.95" y="560.00" font-size="5.35" text-anchor="middle" >Overall survival (months)</text>
<text x="0" y="0" font-size="5.43" text-anchor="middle" transform="translate(275.10,474.00) rotate(-90)">Proportion of patients</text>
<rect x="463.7" y="408.9" width="53.10" height="13.70" fill="none" stroke="#a6a6a6" stroke-width="0.8"/>
<line x1="466.9" y1="413.00" x2="485.6" y2="413.00" stroke="#565656" stroke-width="0.75"/>
<text x="489.00" y="414.71" font-size="4.76" text-anchor="start" >no del(17p)</text>
<line x1="466.9" y1="418.90" x2="485.6" y2="418.90" stroke="#8e8e8e" stroke-width="0.75"/>
<text x="489.00" y="420.61" font-size="4.76" text-anchor="start" >del(17p)</text>
<text x="464.00" y="430.61" font-size="4.74" text-anchor="start" >HR = 3.227, <tspan font-style="italic">P</tspan> = 0.0013</text>
<rect x="295.0" y="566.40" width="224.10" height="18.60" fill="none" stroke="#a6a6a6" stroke-width="0.9"/>
<text x="365.20" y="572.50" font-size="4.9" text-anchor="middle" >No. of subjects</text>
<text x="400.50" y="572.50" font-size="4.9" text-anchor="middle" >Event</text>
<text x="429.30" y="572.50" font-size="4.9" text-anchor="middle" >Censored</text>
<text x="476.00" y="572.50" font-size="4.9" text-anchor="middle" >Median survival (95% CI)</text>
<text x="313.60" y="577.70" font-size="4.9" text-anchor="start" >no del(17p)</text>
<text x="365.20" y="577.70" font-size="4.9" text-anchor="middle" >118</text>
<text x="400.50" y="577.70" font-size="4.9" text-anchor="middle" >47% (56)</text>
<text x="429.30" y="577.70" font-size="4.9" text-anchor="middle" >53% (62)</text>
<text x="476.00" y="577.70" font-size="4.9" text-anchor="middle" >23.70 (14.70–NA)</text>
<text x="313.60" y="582.80" font-size="4.9" text-anchor="start" >del(17p)</text>
<text x="365.20" y="582.80" font-size="4.9" text-anchor="middle" >12</text>
<text x="400.50" y="582.80" font-size="4.9" text-anchor="middle" >75% (9)</text>
<text x="429.30" y="582.80" font-size="4.9" text-anchor="middle" >25% (3)</text>
<text x="476.00" y="582.80" font-size="4.9" text-anchor="middle" >4.67 (1.73–12.90)</text>
<path d="M298.00,409.60 H302.40 V409.60 H302.70 V418.80 H304.40 V419.40 H305.00 V432.10 H309.00 V432.10 H309.20 V443.50 H312.10 V443.50 H312.10 V456.10 H316.70 V456.10 H316.70 V467.90 H328.70 V467.90 H328.70 V479.40 H354.00 V479.40 H354.00 V492.00 H357.40 V492.00 H357.40 V503.20 H383.50 V503.20 H383.50 V515.30 H425.80 V515.30" fill="none" stroke="#8e8e8e" stroke-width="1.0"/>
<line x1="304.40" y1="418.10" x2="304.40" y2="420.70" stroke="#6e6e6e" stroke-width="1.0"/>
<line x1="420.40" y1="514.00" x2="420.40" y2="516.60" stroke="#6e6e6e" stroke-width="1.0"/>
<line x1="425.80" y1="514.00" x2="425.80" y2="516.60" stroke="#6e6e6e" stroke-width="1.0"/>
<path d="M298.00,409.60 H302.10 V410.20 H305.00 V411.90 H307.80 V413.70 H310.20 V416.00 H312.50 V418.30 H315.30 V420.00 H317.70 V422.30 H320.00 V424.60 H321.70 V426.30 H322.30 V429.80 H324.60 V430.40 H326.30 V432.10 H328.60 V433.30 H332.10 V435.00 H336.50 V435.70 H342.70 V436.20 H345.00 V437.30 H346.50 V439.00 H348.30 V441.90 H354.60 V442.40 H356.90 V444.80 H358.70 V447.70 H361.00 V449.10 H365.00 V449.40 H367.30 V450.60 H368.50 V451.40 H374.20 V451.70 H376.50 V454.00 H378.80 V455.80 H382.90 V456.30 H385.80 V458.10 H388.10 V459.80 H389.80 V461.00 H394.40 V461.80 H396.20 V462.90 H404.80 V462.90 H406.10 V465.00 H412.50 V465.00 H413.70 V466.70 H416.50 V467.30 H418.80 V468.50 H447.10 V468.50 H448.30 V470.20 H454.00 V470.50 H455.20 V473.70 H455.80 V476.50 H457.50 V477.30 H460.40 V477.90 H461.00 V479.40 H466.20 V480.00 H468.00 V482.30 H516.40 V482.30" fill="none" stroke="#565656" stroke-width="1.0"/>
<line x1="358.10" y1="446.40" x2="358.10" y2="449.00" stroke="#2e2e2e" stroke-width="1.0"/>
<line x1="362.70" y1="447.80" x2="362.70" y2="450.40" stroke="#2e2e2e" stroke-width="1.0"/>
<line x1="366.20" y1="448.10" x2="366.20" y2="450.70" stroke="#2e2e2e" stroke-width="1.0"/>
<line x1="383.50" y1="455.00" x2="383.50" y2="457.60" stroke="#2e2e2e" stroke-width="1.0"/>
<line x1="391.00" y1="459.70" x2="391.00" y2="462.30" stroke="#2e2e2e" stroke-width="1.0"/>
<line x1="392.10" y1="459.70" x2="392.10" y2="462.30" stroke="#2e2e2e" stroke-width="1.0"/>
<line x1="405.40" y1="461.60" x2="405.40" y2="464.20" stroke="#2e2e2e" stroke-width="1.0"/>
<line x1="411.30" y1="463.70" x2="411.30" y2="466.30" stroke="#2e2e2e" stroke-width="1.0"/>
<line x1="414.20" y1="465.40" x2="414.20" y2="468.00" stroke="#2e2e2e" stroke-width="1.0"/>
<line x1="416.50" y1="466.00" x2="416.50" y2="468.60" stroke="#2e2e2e" stroke-width="1.0"/>
<line x1="424.60" y1="467.20" x2="424.60" y2="469.80" stroke="#2e2e2e" stroke-width="1.0"/>
<line x1="425.80" y1="467.20" x2="425.80" y2="469.80" stroke="#2e2e2e" stroke-width="1.0"/>
<line x1="428.70" y1="467.20" x2="428.70" y2="469.80" stroke="#2e2e2e" stroke-width="1.0"/>
<line x1="433.30" y1="467.20" x2="433.30" y2="469.80" stroke="#2e2e2e" stroke-width="1.0"/>
<line x1="439.00" y1="467.20" x2="439.00" y2="469.80" stroke="#2e2e2e" stroke-width="1.0"/>
<line x1="446.00" y1="467.20" x2="446.00" y2="469.80" stroke="#2e2e2e" stroke-width="1.0"/>
<line x1="449.40" y1="468.90" x2="449.40" y2="471.50" stroke="#2e2e2e" stroke-width="1.0"/>
<line x1="458.10" y1="476.00" x2="458.10" y2="478.60" stroke="#2e2e2e" stroke-width="1.0"/>
<line x1="471.40" y1="481.00" x2="471.40" y2="483.60" stroke="#2e2e2e" stroke-width="1.0"/>
<line x1="473.20" y1="481.00" x2="473.20" y2="483.60" stroke="#2e2e2e" stroke-width="1.0"/>
<line x1="474.90" y1="481.00" x2="474.90" y2="483.60" stroke="#2e2e2e" stroke-width="1.0"/>
<line x1="481.80" y1="481.00" x2="481.80" y2="483.60" stroke="#2e2e2e" stroke-width="1.0"/>
<line x1="485.30" y1="481.00" x2="485.30" y2="483.60" stroke="#2e2e2e" stroke-width="1.0"/>
<line x1="487.00" y1="481.00" x2="487.00" y2="483.60" stroke="#2e2e2e" stroke-width="1.0"/>
<line x1="488.70" y1="481.00" x2="488.70" y2="483.60" stroke="#2e2e2e" stroke-width="1.0"/>
<line x1="491.00" y1="481.00" x2="491.00" y2="483.60" stroke="#2e2e2e" stroke-width="1.0"/>
<line x1="493.30" y1="481.00" x2="493.30" y2="483.60" stroke="#2e2e2e" stroke-width="1.0"/>
<line x1="495.10" y1="481.00" x2="495.10" y2="483.60" stroke="#2e2e2e" stroke-width="1.0"/>
<line x1="496.80" y1="481.00" x2="496.80" y2="483.60" stroke="#2e2e2e" stroke-width="1.0"/>
<line x1="506.60" y1="481.00" x2="506.60" y2="483.60" stroke="#2e2e2e" stroke-width="1.0"/>
<line x1="511.20" y1="481.00" x2="511.20" y2="483.60" stroke="#2e2e2e" stroke-width="1.0"/>
<line x1="516.40" y1="481.00" x2="516.40" y2="483.60" stroke="#2e2e2e" stroke-width="1.0"/>
<text x="1.2" y="607.8" font-size="14" font-weight="bold" style="fill:#000;stroke:#000;stroke-width:0.35px">G</text>
<text x="140.75" y="601.70" font-size="5.35" text-anchor="middle" >Time to progression by t(4;14)</text>
<rect x="28.5" y="604.9" width="224.50" height="136.30" fill="none" stroke="#a6a6a6" stroke-width="1"/>
<line x1="26.5" y1="608.80" x2="28.5" y2="608.80" stroke="#a6a6a6" stroke-width="0.8"/>
<text x="23.70" y="610.40" font-size="5.1" text-anchor="end" >1.00</text>
<line x1="26.5" y1="641.15" x2="28.5" y2="641.15" stroke="#a6a6a6" stroke-width="0.8"/>
<text x="23.70" y="642.75" font-size="5.1" text-anchor="end" >0.75</text>
<line x1="26.5" y1="673.50" x2="28.5" y2="673.50" stroke="#a6a6a6" stroke-width="0.8"/>
<text x="23.70" y="675.10" font-size="5.1" text-anchor="end" >0.50</text>
<line x1="26.5" y1="705.85" x2="28.5" y2="705.85" stroke="#a6a6a6" stroke-width="0.8"/>
<text x="23.70" y="707.45" font-size="5.1" text-anchor="end" >0.25</text>
<line x1="26.5" y1="738.20" x2="28.5" y2="738.20" stroke="#a6a6a6" stroke-width="0.8"/>
<text x="23.70" y="739.80" font-size="5.1" text-anchor="end" >0</text>
<line x1="31.30" y1="741.2" x2="31.30" y2="743.7" stroke="#a6a6a6" stroke-width="0.8"/>
<text x="31.30" y="750.20" font-size="5.1" text-anchor="middle" >0</text>
<line x1="67.65" y1="741.2" x2="67.65" y2="743.7" stroke="#a6a6a6" stroke-width="0.8"/>
<text x="67.65" y="750.20" font-size="5.1" text-anchor="middle" >5</text>
<line x1="104.00" y1="741.2" x2="104.00" y2="743.7" stroke="#a6a6a6" stroke-width="0.8"/>
<text x="104.00" y="750.20" font-size="5.1" text-anchor="middle" >10</text>
<line x1="140.35" y1="741.2" x2="140.35" y2="743.7" stroke="#a6a6a6" stroke-width="0.8"/>
<text x="140.35" y="750.20" font-size="5.1" text-anchor="middle" >15</text>
<line x1="176.70" y1="741.2" x2="176.70" y2="743.7" stroke="#a6a6a6" stroke-width="0.8"/>
<text x="176.70" y="750.20" font-size="5.1" text-anchor="middle" >20</text>
<line x1="213.05" y1="741.2" x2="213.05" y2="743.7" stroke="#a6a6a6" stroke-width="0.8"/>
<text x="213.05" y="750.20" font-size="5.1" text-anchor="middle" >25</text>
<line x1="249.40" y1="741.2" x2="249.40" y2="743.7" stroke="#a6a6a6" stroke-width="0.8"/>
<text x="249.40" y="750.20" font-size="5.1" text-anchor="middle" >30</text>
<text x="140.75" y="759.90" font-size="5.35" text-anchor="middle" >Time to disease progression (months)</text>
<text x="0" y="0" font-size="5.43" text-anchor="middle" transform="translate(8.80,673.90) rotate(-90)">Proportion of patients</text>
<rect x="197.0" y="608.3" width="52.90" height="13.60" fill="none" stroke="#a6a6a6" stroke-width="0.8"/>
<line x1="200.1" y1="612.10" x2="219.5" y2="612.10" stroke="#565656" stroke-width="0.75"/>
<text x="223.00" y="613.80" font-size="4.72" text-anchor="start" >no t(4;14)</text>
<line x1="200.1" y1="617.90" x2="219.5" y2="617.90" stroke="#8e8e8e" stroke-width="0.75"/>
<text x="223.00" y="619.60" font-size="4.72" text-anchor="start" >t(4;14)</text>
<text x="195.10" y="629.31" font-size="4.75" text-anchor="start" >HR = 1.6, <tspan font-style="italic">P</tspan> = 0.13</text>
<rect x="28.8" y="765.80" width="223.50" height="18.20" fill="none" stroke="#a6a6a6" stroke-width="0.9"/>
<line x1="28.3" y1="784.4" x2="252.8" y2="784.4" stroke="#6a6a6a" stroke-width="1.3"/>
<text x="93.20" y="771.40" font-size="4.55" text-anchor="middle" >No. of subjects</text>
<text x="129.70" y="771.40" font-size="4.55" text-anchor="middle" >Event</text>
<text x="161.70" y="771.40" font-size="4.55" text-anchor="middle" >Censored</text>
<text x="209.50" y="771.40" font-size="4.55" text-anchor="middle" >Median survival (95% CI)</text>
<text x="47.40" y="776.80" font-size="4.55" text-anchor="start" >t(4;14)</text>
<text x="93.20" y="776.80" font-size="4.55" text-anchor="middle" >28</text>
<text x="129.70" y="776.80" font-size="4.55" text-anchor="middle" >79% (22)</text>
<text x="161.70" y="776.80" font-size="4.55" text-anchor="middle" >21% (6)</text>
<text x="209.50" y="776.80" font-size="4.55" text-anchor="middle" >8.00 (2.43–10.33)</text>
<text x="47.40" y="781.60" font-size="4.55" text-anchor="start" >no t(4;14)</text>
<text x="93.20" y="781.60" font-size="4.55" text-anchor="middle" >28</text>
<text x="129.70" y="781.60" font-size="4.55" text-anchor="middle" >71% (20)</text>
<text x="161.70" y="781.60" font-size="4.55" text-anchor="middle" >29% (8)</text>
<text x="209.50" y="781.60" font-size="4.55" text-anchor="middle" >11.57 (5.93–18.77)</text>
<path d="M32.00,608.50 H32.20 V612.50 H36.80 V612.50 H37.20 V616.50 H37.80 V621.20 H38.40 V626.90 H44.20 V626.90 H44.70 V631.50 H45.30 V637.30 H45.80 V640.80 H46.90 V641.90 H48.10 V646.00 H49.20 V651.20 H57.90 V651.20 H58.50 V661.30 H63.10 V661.30 H63.70 V666.40 H71.70 V666.40 H72.30 V671.70 H90.20 V671.70 H90.40 V677.30 H97.30 V677.30 H97.90 V683.70 H98.50 V688.00 H101.20 V688.00 H101.50 V693.90 H106.90 V693.90 H107.20 V699.30 H117.90 V699.30 H117.90 V705.20 H150.20 V705.20 H150.20 V710.60 H157.10 V710.60 H157.10 V716.20 H182.00 V716.20 H182.00 V723.60 H239.00 V723.60" fill="none" stroke="#8e8e8e" stroke-width="1.0"/>
<line x1="44.70" y1="630.20" x2="44.70" y2="632.80" stroke="#6e6e6e" stroke-width="1.0"/>
<line x1="76.30" y1="670.40" x2="76.30" y2="673.00" stroke="#6e6e6e" stroke-width="1.0"/>
<line x1="165.00" y1="714.90" x2="165.00" y2="717.50" stroke="#6e6e6e" stroke-width="1.0"/>
<line x1="186.00" y1="722.30" x2="186.00" y2="724.90" stroke="#6e6e6e" stroke-width="1.0"/>
<line x1="239.00" y1="722.30" x2="239.00" y2="724.90" stroke="#6e6e6e" stroke-width="1.0"/>
<path d="M32.00,608.50 H43.00 V608.50 H43.60 V612.50 H44.20 V616.80 H46.60 V616.80 H47.00 V621.40 H50.60 V621.40 H51.70 V626.90 H63.20 V626.90 H63.80 V632.10 H64.90 V635.50 H65.40 V636.70 H66.50 V641.00 H71.20 V641.00 H71.70 V645.60 H74.10 V645.60 H74.60 V650.20 H77.60 V650.20 H78.10 V654.60 H79.80 V656.30 H80.40 V660.40 H81.50 V662.10 H81.70 V665.20 H83.60 V670.30 H115.50 V670.30 H115.80 V675.60 H131.30 V675.60 H131.30 V681.40 H153.60 V681.40 H153.60 V687.10 H161.30 V687.10 H161.50 V694.20 H167.90 V694.20 H167.90 V701.50 H197.50 V701.50 H197.80 V714.00 H225.50 V714.00 H225.60 V725.60 H249.00 V725.60" fill="none" stroke="#565656" stroke-width="1.0"/>
<line x1="54.50" y1="625.60" x2="54.50" y2="628.20" stroke="#2e2e2e" stroke-width="1.0"/>
<line x1="106.50" y1="669.00" x2="106.50" y2="671.60" stroke="#2e2e2e" stroke-width="1.0"/>
<line x1="123.30" y1="674.30" x2="123.30" y2="676.90" stroke="#2e2e2e" stroke-width="1.0"/>
<line x1="159.20" y1="685.80" x2="159.20" y2="688.40" stroke="#2e2e2e" stroke-width="1.0"/>
<line x1="171.30" y1="700.20" x2="171.30" y2="702.80" stroke="#2e2e2e" stroke-width="1.0"/>
<line x1="193.30" y1="700.20" x2="193.30" y2="702.80" stroke="#2e2e2e" stroke-width="1.0"/>
<line x1="249.00" y1="724.30" x2="249.00" y2="726.90" stroke="#2e2e2e" stroke-width="1.0"/>
<text x="267.9" y="607.6" font-size="14" font-weight="bold" style="fill:#000;stroke:#000;stroke-width:0.35px">H</text>
<text x="406.95" y="601.70" font-size="5.35" text-anchor="middle" >Overall survival by t(4;14)</text>
<rect x="294.8" y="604.9" width="224.30" height="136.30" fill="none" stroke="#a6a6a6" stroke-width="1"/>
<line x1="292.8" y1="608.80" x2="294.8" y2="608.80" stroke="#a6a6a6" stroke-width="0.8"/>
<text x="289.70" y="610.40" font-size="5.1" text-anchor="end" >1.00</text>
<line x1="292.8" y1="641.15" x2="294.8" y2="641.15" stroke="#a6a6a6" stroke-width="0.8"/>
<text x="289.70" y="642.75" font-size="5.1" text-anchor="end" >0.75</text>
<line x1="292.8" y1="673.50" x2="294.8" y2="673.50" stroke="#a6a6a6" stroke-width="0.8"/>
<text x="289.70" y="675.10" font-size="5.1" text-anchor="end" >0.50</text>
<line x1="292.8" y1="705.85" x2="294.8" y2="705.85" stroke="#a6a6a6" stroke-width="0.8"/>
<text x="289.70" y="707.45" font-size="5.1" text-anchor="end" >0.25</text>
<line x1="292.8" y1="738.20" x2="294.8" y2="738.20" stroke="#a6a6a6" stroke-width="0.8"/>
<text x="289.70" y="739.80" font-size="5.1" text-anchor="end" >0</text>
<line x1="298.00" y1="741.2" x2="298.00" y2="743.7" stroke="#a6a6a6" stroke-width="0.8"/>
<text x="298.00" y="750.20" font-size="5.1" text-anchor="middle" >0</text>
<line x1="331.25" y1="741.2" x2="331.25" y2="743.7" stroke="#a6a6a6" stroke-width="0.8"/>
<text x="331.25" y="750.20" font-size="5.1" text-anchor="middle" >5</text>
<line x1="364.50" y1="741.2" x2="364.50" y2="743.7" stroke="#a6a6a6" stroke-width="0.8"/>
<text x="364.50" y="750.20" font-size="5.1" text-anchor="middle" >10</text>
<line x1="397.75" y1="741.2" x2="397.75" y2="743.7" stroke="#a6a6a6" stroke-width="0.8"/>
<text x="397.75" y="750.20" font-size="5.1" text-anchor="middle" >15</text>
<line x1="431.00" y1="741.2" x2="431.00" y2="743.7" stroke="#a6a6a6" stroke-width="0.8"/>
<text x="431.00" y="750.20" font-size="5.1" text-anchor="middle" >20</text>
<line x1="464.25" y1="741.2" x2="464.25" y2="743.7" stroke="#a6a6a6" stroke-width="0.8"/>
<text x="464.25" y="750.20" font-size="5.1" text-anchor="middle" >25</text>
<line x1="497.50" y1="741.2" x2="497.50" y2="743.7" stroke="#a6a6a6" stroke-width="0.8"/>
<text x="497.50" y="750.20" font-size="5.1" text-anchor="middle" >30</text>
<text x="406.95" y="759.90" font-size="5.35" text-anchor="middle" >Overall survival (months)</text>
<text x="0" y="0" font-size="5.43" text-anchor="middle" transform="translate(275.10,673.90) rotate(-90)">Proportion of patients</text>
<rect x="463.7" y="608.1" width="53.10" height="14.10" fill="none" stroke="#a6a6a6" stroke-width="0.8"/>
<line x1="466.9" y1="612.30" x2="486.2" y2="612.30" stroke="#565656" stroke-width="0.75"/>
<text x="489.40" y="614.03" font-size="4.8" text-anchor="start" >no t(4;14)</text>
<line x1="466.9" y1="618.50" x2="486.2" y2="618.50" stroke="#8e8e8e" stroke-width="0.75"/>
<text x="489.40" y="620.23" font-size="4.8" text-anchor="start" >t(4;14)</text>
<text x="464.40" y="628.61" font-size="4.74" text-anchor="start" >HR = 1.25, <tspan font-style="italic">P</tspan> = 0.57</text>
<rect x="295.0" y="765.80" width="224.10" height="18.20" fill="none" stroke="#a6a6a6" stroke-width="0.9"/>
<line x1="294.5" y1="784.4" x2="519.6" y2="784.4" stroke="#6a6a6a" stroke-width="1.3"/>
<text x="360.00" y="771.40" font-size="4.9" text-anchor="middle" >No. of subjects</text>
<text x="396.60" y="771.40" font-size="4.9" text-anchor="middle" >Event</text>
<text x="428.50" y="771.40" font-size="4.9" text-anchor="middle" >Censored</text>
<text x="476.00" y="771.40" font-size="4.9" text-anchor="middle" >Median survival (95% CI)</text>
<text x="314.00" y="776.80" font-size="4.9" text-anchor="start" >t(4;14)</text>
<text x="360.00" y="776.80" font-size="4.9" text-anchor="middle" >28</text>
<text x="396.60" y="776.80" font-size="4.9" text-anchor="middle" >50% (14)</text>
<text x="428.50" y="776.80" font-size="4.9" text-anchor="middle" >50% (14)</text>
<text x="476.00" y="776.80" font-size="4.9" text-anchor="middle" >23.70 (9.30–NA)</text>
<text x="314.00" y="781.60" font-size="4.9" text-anchor="start" >no t(4;14)</text>
<text x="360.00" y="781.60" font-size="4.9" text-anchor="middle" >28</text>
<text x="396.60" y="781.60" font-size="4.9" text-anchor="middle" >43% (12)</text>
<text x="428.50" y="781.60" font-size="4.9" text-anchor="middle" >57% (16)</text>
<text x="476.00" y="781.60" font-size="4.9" text-anchor="middle" >NA (8.00–NA)</text>
<path d="M299.20,608.20 H299.80 V612.50 H303.20 V612.50 H303.20 V616.50 H309.60 V616.50 H310.20 V621.70 H310.70 V626.30 H311.30 V631.00 H318.80 V631.00 H319.40 V636.20 H320.00 V641.30 H357.70 V641.30 H359.40 V642.50 H361.20 V644.80 H362.30 V646.50 H362.90 V650.60 H363.50 V651.20 H382.70 V651.20 H382.70 V656.10 H392.70 V656.10 H392.70 V661.40 H455.40 V661.40 H455.40 V671.50 H463.30 V671.50 H463.40 V690.40 H516.20 V690.40" fill="none" stroke="#8e8e8e" stroke-width="1.0"/>
<line x1="368.10" y1="649.90" x2="368.10" y2="652.50" stroke="#6e6e6e" stroke-width="1.0"/>
<line x1="388.10" y1="654.80" x2="388.10" y2="657.40" stroke="#6e6e6e" stroke-width="1.0"/>
<line x1="392.70" y1="660.10" x2="392.70" y2="662.70" stroke="#6e6e6e" stroke-width="1.0"/>
<line x1="395.80" y1="660.10" x2="395.80" y2="662.70" stroke="#6e6e6e" stroke-width="1.0"/>
<line x1="425.80" y1="660.10" x2="425.80" y2="662.70" stroke="#6e6e6e" stroke-width="1.0"/>
<line x1="445.40" y1="660.10" x2="445.40" y2="662.70" stroke="#6e6e6e" stroke-width="1.0"/>
<line x1="471.50" y1="689.10" x2="471.50" y2="691.70" stroke="#6e6e6e" stroke-width="1.0"/>
<line x1="496.90" y1="689.10" x2="496.90" y2="691.70" stroke="#6e6e6e" stroke-width="1.0"/>
<line x1="501.50" y1="689.10" x2="501.50" y2="691.70" stroke="#6e6e6e" stroke-width="1.0"/>
<line x1="504.60" y1="689.10" x2="504.60" y2="691.70" stroke="#6e6e6e" stroke-width="1.0"/>
<line x1="516.20" y1="689.10" x2="516.20" y2="691.70" stroke="#6e6e6e" stroke-width="1.0"/>
<path d="M299.20,608.20 H310.50 V608.20 H310.70 V612.50 H320.50 V612.50 H320.50 V617.10 H330.90 V617.10 H331.00 V621.70 H331.50 V626.30 H348.20 V626.30 H348.50 V631.00 H350.80 V631.00 H351.20 V636.20 H356.80 V636.20 H357.10 V641.30 H360.00 V643.10 H360.60 V647.70 H361.70 V653.50 H365.20 V654.00 H368.10 V654.60 H369.40 V659.60 H411.20 V659.60 H411.20 V665.00 H506.90 V665.00" fill="none" stroke="#565656" stroke-width="1.0"/>
<line x1="386.50" y1="658.30" x2="386.50" y2="660.90" stroke="#2e2e2e" stroke-width="1.0"/>
<line x1="418.80" y1="663.70" x2="418.80" y2="666.30" stroke="#2e2e2e" stroke-width="1.0"/>
<line x1="421.20" y1="663.70" x2="421.20" y2="666.30" stroke="#2e2e2e" stroke-width="1.0"/>
<line x1="431.90" y1="663.70" x2="431.90" y2="666.30" stroke="#2e2e2e" stroke-width="1.0"/>
<line x1="452.30" y1="663.70" x2="452.30" y2="666.30" stroke="#2e2e2e" stroke-width="1.0"/>
<line x1="481.50" y1="663.70" x2="481.50" y2="666.30" stroke="#2e2e2e" stroke-width="1.0"/>
<line x1="493.10" y1="663.70" x2="493.10" y2="666.30" stroke="#2e2e2e" stroke-width="1.0"/>
<line x1="496.20" y1="663.70" x2="496.20" y2="666.30" stroke="#2e2e2e" stroke-width="1.0"/>
<line x1="499.20" y1="663.70" x2="499.20" y2="666.30" stroke="#2e2e2e" stroke-width="1.0"/>
<line x1="505.40" y1="663.70" x2="505.40" y2="666.30" stroke="#2e2e2e" stroke-width="1.0"/>
<line x1="506.50" y1="663.70" x2="506.50" y2="666.30" stroke="#2e2e2e" stroke-width="1.0"/>
</svg></body></html>
